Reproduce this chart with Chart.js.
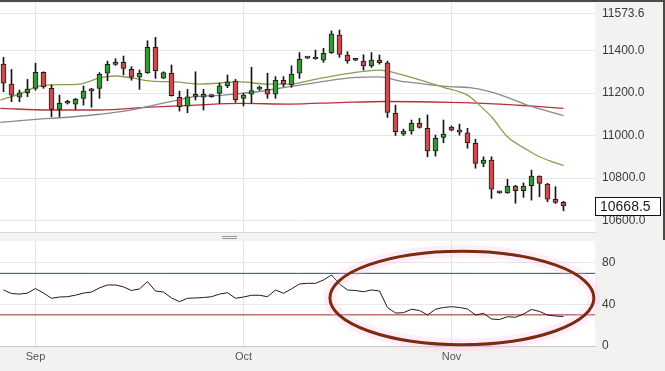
<!DOCTYPE html>
<html>
<head>
<meta charset="utf-8">
<script src="https://cdn.jsdelivr.net/npm/chart.js@4.4.1/dist/chart.umd.min.js"></script>
<style>
  html, body { margin: 0; padding: 0; background: #f2f2f0; }
  body { width: 665px; height: 371px; position: relative; overflow: hidden; }
  #mainChart { position: absolute; left: 0; top: 0; }
  #rsiChart { position: absolute; left: 0; top: 240px; }
  .frameTop { position: absolute; left: 0; top: 0; width: 665px; height: 2px; background: #4a4a4a; }
  .frameRight { position: absolute; left: 663px; top: 0; width: 2px; height: 240px; background: #4a4a4a; }
  .grip { position: absolute; left: 222px; width: 15px; height: 1px; background: #9a9a9a; }
</style>
</head>
<body>
<canvas id="mainChart" width="665" height="240"></canvas>
<canvas id="rsiChart" width="665" height="131"></canvas>
<div class="frameTop"></div>
<div class="frameRight"></div>
<div class="grip" style="top:236px"></div>
<div class="grip" style="top:238px"></div>
<script>
// daily candles
const opens  = [11336,11242,11180,11201,11222,11297,11222,11123,11160,11147,11175,11214,11222,11293,11335,11344,11311,11274,11296,11415,11270,11293,11180,11138,11184,11180,11190,11198,11234,11256,11175,11195,11218,11217,11195,11260,11238,11293,11364,11362,11355,11390,11473,11379,11356,11350,11328,11355,11342,11104,11006,11022,11057,11034,10928,10991,11040,11018,11013,10963,10869,10884,10735,10730,10762,10740,10764,10809,10771,10700,10686];
const highs  = [11368,11311,11214,11264,11340,11300,11238,11190,11166,11175,11233,11222,11296,11350,11361,11374,11324,11308,11446,11462,11300,11332,11209,11217,11300,11217,11192,11246,11285,11264,11198,11321,11233,11293,11277,11277,11328,11390,11368,11402,11410,11492,11496,11394,11358,11380,11390,11379,11350,11143,11030,11073,11081,11097,11002,11073,11045,11054,11034,10983,10900,10900,10738,10794,10766,10777,10837,10810,10775,10759,10690];
const lows   = [11206,11159,11159,11183,11213,11222,11088,11088,11148,11123,11143,11133,11175,11258,11330,11285,11260,11217,11292,11269,11268,11185,11115,11107,11167,11120,11180,11151,11225,11156,11139,11152,11213,11175,11175,11230,11227,11269,11362,11359,11344,11386,11368,11340,11352,11308,11320,11336,11085,11000,11000,11006,11035,10900,10903,10966,11022,11002,10940,10846,10853,10704,10728,10728,10681,10709,10696,10712,10688,10680,10646];
const closes = [11246,11190,11201,11219,11297,11230,11123,11151,11152,11170,11209,11210,11288,11335,11345,11316,11274,11293,11415,11305,11296,11188,11136,11182,11191,11194,11183,11234,11253,11167,11190,11211,11226,11195,11260,11242,11289,11358,11366,11360,11387,11478,11382,11352,11354,11328,11355,11343,11109,11018,11021,11057,11038,10928,10987,11007,11025,11016,10966,10869,10884,10747,10730,10762,10740,10762,10809,10775,10700,10685,10668.5];

// moving averages: [candle index, value]
const maShortIdx = [-0.4,2,4,6,9.5,12,14,16,18.5,21.5,24.5,29.5,33,36,38.5,42,44.5,47,49.5,55,58,59.5,61,63,65.5,67,70];
const maShort    = [11167,11195,11228,11238,11242,11271,11280,11271,11256,11252,11242,11252,11242,11242,11261,11285,11299,11308,11289,11227,11190,11143,11088,10994,10932,10900,10858];
const maMidIdx = [-0.4,4,8,12,15.5,19.8,21.8,24,27.5,31.7,35.8,39.3,43.6,47,49.6,52,55.8,58.3,60.8,63.3,65.8,68,70];
const maMid    = [11062,11076,11086,11100,11117,11151,11167,11183,11190,11206,11230,11250,11272,11276,11256,11245,11230,11225,11206,11175,11139,11115,11093];
const maLongIdx = [-0.4,5.8,12,18.3,24,29.6,35.8,42,47.7,55.8,62,65.8,70];
const maLong    = [11128,11120,11120,11134,11143,11151,11148,11155,11160,11156,11148,11139,11128];

// RSI, one value per candle
const rsi = [54,50.6,50,51,55.4,51,46,47.2,47.5,49,51,52,56,58.8,58.8,57,53.5,55,62,53,52,46.3,42.7,46,46.3,46.7,47.5,50,51.4,46,47.2,48.9,48.9,47.5,54,50.8,55,59.8,60.4,60.4,63.6,68.4,59.8,54,53.5,52.3,54,53,37.1,31.8,32.1,35.4,34.2,29.9,35.4,37.1,37.9,37.1,35.7,29.9,31.5,26,25.5,28.2,27.7,30.8,35.2,33.3,29.9,28.9,28.4];
const rsiUpper = 70;
const rsiLower = 30;

const priceTicks = [10600, 10800, 11000, 11200, 11400, 11573.6];
const rsiTicks = [0, 40, 80];
const monthLabels = ['Sep', 'Oct', 'Nov'];
const monthIdx = [4, 30, 56];

// ring drawn over the RSI panel, in data units
const ringCenter = { idx: 57.3, rsi: 46.3 };
const ringHalf = { idx: 16.5, rsi: 45 };

const idx = closes.map((_, i) => i);
const upColor = '#339a33';
const downColor = '#cf4b4b';
const font = 'Liberation Sans';

const whitePanel = {
  id: 'whitePanel',
  beforeDraw(chart) {
    const { ctx, chartArea: a } = chart;
    ctx.save();
    ctx.fillStyle = '#ffffff';
    ctx.fillRect(a.left, a.top, a.right - a.left, a.bottom - a.top);
    ctx.restore();
  }
};

const priceTag = {
  id: 'priceTag',
  afterDraw(chart) {
    const { ctx, chartArea: a } = chart;
    const y = Math.round(chart.scales.y.getPixelForValue(closes[closes.length - 1]));
    ctx.save();
    ctx.fillStyle = '#ffffff';
    ctx.fillRect(a.right, y - 9, 65, 18);
    ctx.strokeStyle = '#111';
    ctx.lineWidth = 1;
    ctx.strokeRect(a.right + 0.5, y - 8.5, 65, 18);
    ctx.fillStyle = '#222';
    ctx.font = '14px "' + font + '"';
    ctx.textBaseline = 'middle';
    ctx.fillText(closes[closes.length - 1].toFixed(1), a.right + 5, y + 1);
    ctx.restore();
  }
};

const ring = {
  id: 'ring',
  afterDatasetsDraw(chart) {
    const { ctx, scales: { x, y } } = chart;
    const cx = x.getPixelForValue(ringCenter.idx);
    const cy = y.getPixelForValue(ringCenter.rsi);
    const rx = x.getPixelForValue(ringCenter.idx + ringHalf.idx) - cx;
    const ry = cy - y.getPixelForValue(ringCenter.rsi + ringHalf.rsi);
    ctx.save();
    ctx.beginPath();
    ctx.ellipse(cx, cy, rx, ry, 0, 0, Math.PI * 2);
    ctx.strokeStyle = 'rgba(255,190,235,0.22)';
    ctx.lineWidth = 12;
    ctx.shadowColor = 'rgba(255,170,230,0.4)';
    ctx.shadowBlur = 6;
    ctx.stroke();
    ctx.shadowBlur = 0;
    ctx.beginPath();
    ctx.ellipse(cx, cy, rx, ry, 0, 0, Math.PI * 2);
    ctx.strokeStyle = '#7a2c10';
    ctx.lineWidth = 3;
    ctx.stroke();
    ctx.restore();
  }
};

const xRange = { min: -0.4375, max: 73.94 };

new Chart(document.getElementById('mainChart'), {
  data: {
    datasets: [
      {
        type: 'bar', order: 0, grouped: false,
        data: idx.map(i => ({ x: i, y: [opens[i], closes[i]] })),
        backgroundColor: idx.map(i => closes[i] >= opens[i] ? upColor : downColor),
        borderColor: '#1e1e1e', borderWidth: 1, borderSkipped: false,
        barThickness: 5, minBarLength: 2
      },
      {
        type: 'bar', order: 1, grouped: false,
        data: idx.map(i => ({ x: i, y: [lows[i], highs[i]] })),
        backgroundColor: '#151515', borderWidth: 0, barThickness: 1
      },
      {
        type: 'line', order: 2,
        data: maShortIdx.map((v, k) => ({ x: v, y: maShort[k] })),
        borderColor: '#8e9c52', borderWidth: 1.3, pointRadius: 0, cubicInterpolationMode: 'monotone'
      },
      {
        type: 'line', order: 3,
        data: maMidIdx.map((v, k) => ({ x: v, y: maMid[k] })),
        borderColor: '#8a8a8a', borderWidth: 1.3, pointRadius: 0, cubicInterpolationMode: 'monotone'
      },
      {
        type: 'line', order: 4,
        data: maLongIdx.map((v, k) => ({ x: v, y: maLong[k] })),
        borderColor: '#b8303c', borderWidth: 1.3, pointRadius: 0, cubicInterpolationMode: 'monotone'
      }
    ]
  },
  options: {
    responsive: false,
    animation: false,
    layout: { padding: { top: 3, right: 0, bottom: 8, left: 0 } },
    plugins: { legend: { display: false }, tooltip: { enabled: false } },
    scales: {
      x: {
        type: 'linear', min: xRange.min, max: xRange.max, offset: false,
        afterBuildTicks: s => { s.ticks = monthIdx.map(v => ({ value: v })); },
        afterFit: s => { s.height = 0; s.paddingLeft = 0; s.paddingRight = 0; },
        grid: { color: '#e6e6e6', drawTicks: false, offset: false },
        border: { display: true, color: '#d8d8d8' },
        ticks: { display: false }
      },
      y: {
        position: 'right', min: 10546, max: 11623.5,
        afterBuildTicks: s => { s.ticks = priceTicks.map(v => ({ value: v })); },
        afterFit: s => { s.width = 70; s.paddingTop = 0; s.paddingBottom = 0; },
        grid: { color: '#e6e6e6', drawTicks: false },
        border: { display: false },
        ticks: {
          padding: 7, color: '#3c3c3c', autoSkip: false,
          font: { family: font, size: 12 },
          callback: v => Number(v).toFixed(1)
        }
      }
    }
  },
  plugins: [whitePanel, priceTag]
});

new Chart(document.getElementById('rsiChart'), {
  type: 'line',
  data: {
    datasets: [
      {
        data: idx.map(i => ({ x: i, y: rsi[i] })),
        borderColor: '#1c1c1c', borderWidth: 1, pointRadius: 0, tension: 0
      },
      {
        data: [{ x: xRange.min, y: rsiUpper }, { x: xRange.max, y: rsiUpper }],
        borderColor: '#34457a', borderWidth: 1, pointRadius: 0
      },
      {
        data: [{ x: xRange.min, y: rsiLower }, { x: xRange.max, y: rsiLower }],
        borderColor: '#a02a1c', borderWidth: 1, pointRadius: 0
      }
    ]
  },
  options: {
    responsive: false,
    animation: false,
    layout: { padding: { top: 1, right: 0, bottom: 0, left: 0 } },
    plugins: { legend: { display: false }, tooltip: { enabled: false } },
    scales: {
      x: {
        type: 'linear', min: xRange.min, max: xRange.max,
        afterBuildTicks: s => { s.ticks = monthIdx.map(v => ({ value: v })); },
        afterFit: s => { s.height = 25; s.paddingLeft = 0; s.paddingRight = 0; },
        grid: { color: '#e6e6e6', drawTicks: false },
        border: { display: true, color: '#c8c8c8' },
        ticks: {
          padding: 4, color: '#555', autoSkip: false, maxRotation: 0,
          font: { family: font, size: 11 },
          callback: v => monthLabels[monthIdx.indexOf(v)]
        }
      },
      y: {
        position: 'right', min: 0, max: 101.2,
        afterBuildTicks: s => { s.ticks = rsiTicks.map(v => ({ value: v })); },
        afterFit: s => { s.width = 70; s.paddingTop = 0; s.paddingBottom = 0; },
        grid: { color: '#e8e8e8', drawTicks: false },
        border: { display: false },
        ticks: { padding: 7, color: '#3c3c3c', autoSkip: false, font: { family: font, size: 12 } }
      }
    }
  },
  plugins: [whitePanel, ring]
});
</script>
</body>
</html>
